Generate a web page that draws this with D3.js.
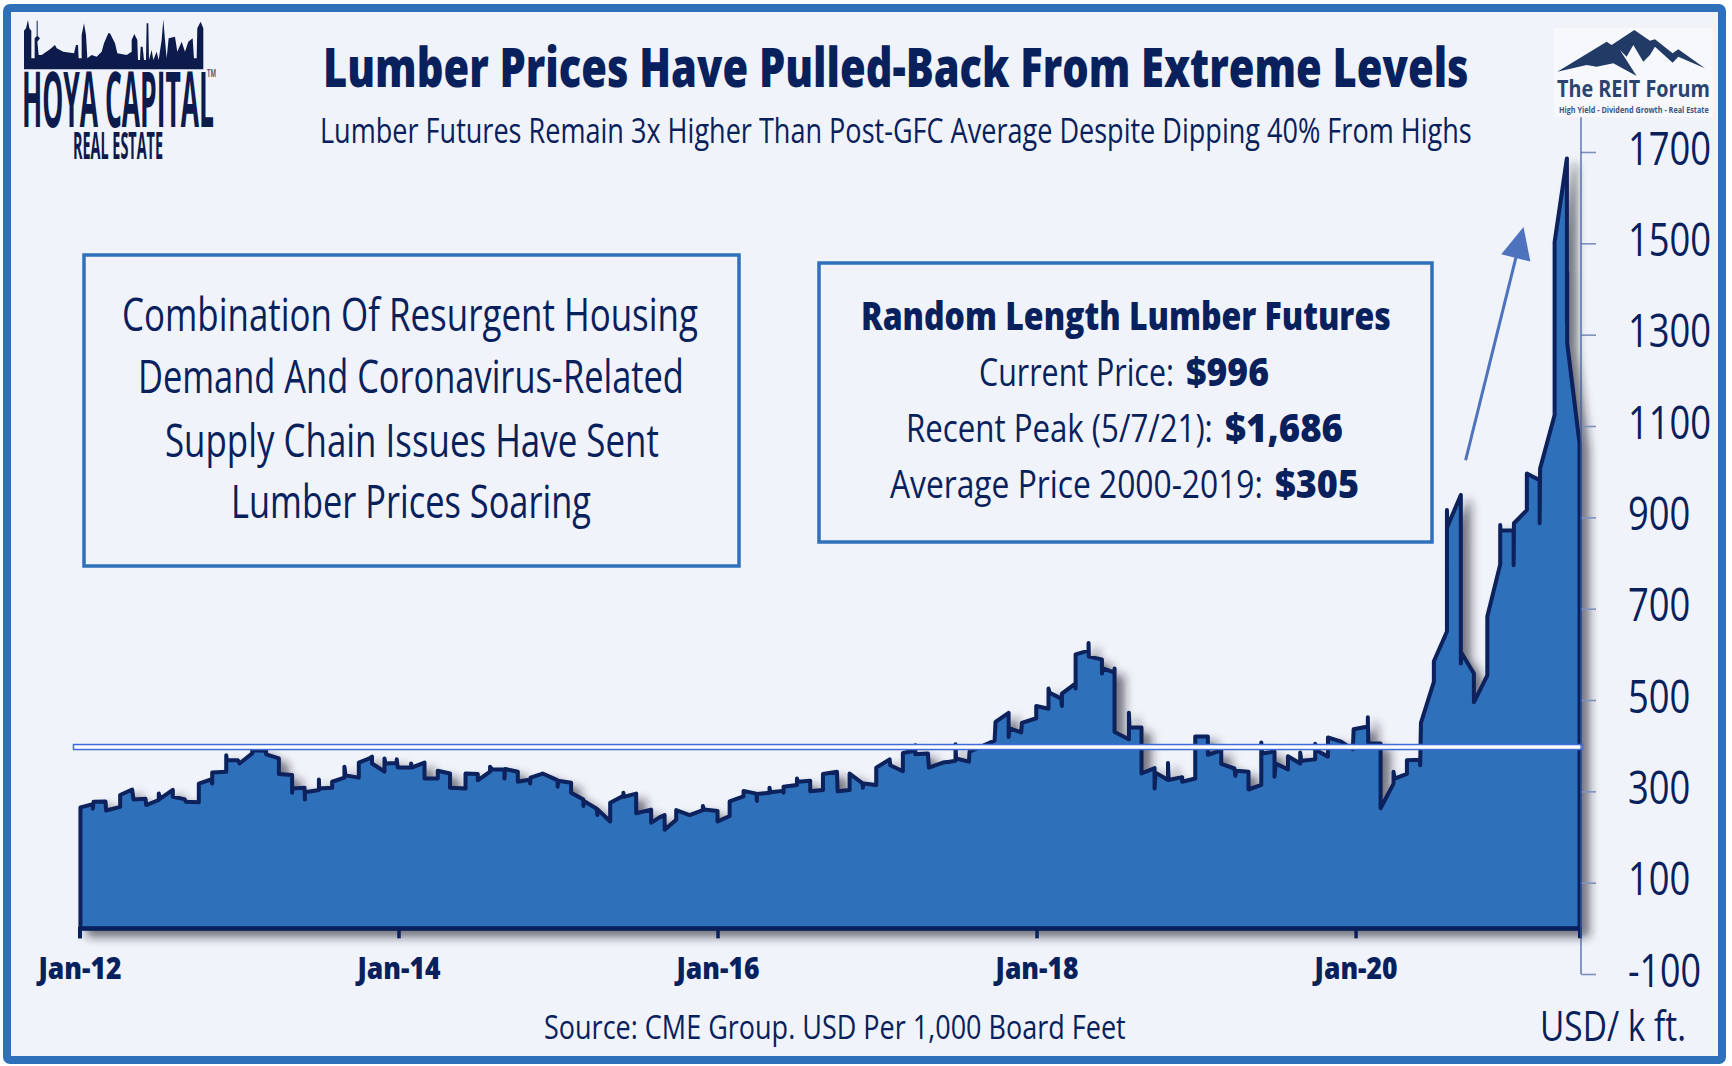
<!DOCTYPE html>
<html>
<head>
<meta charset="utf-8">
<title>Lumber Prices</title>
<script src="https://cdn.jsdelivr.net/npm/d3@7"></script>
<style>
html, body { margin: 0; padding: 0; background: #fff; }
svg { display: block; }
</style>
</head>
<body>
<script>
//years since Jan-12 for each point of the price line (repeated years are the vertical steps)
var yearsSince2012 = [
    0.006,0.084,0.084,0.088,0.163,0.167,0.255,0.255,0.330,0.339,0.414,0.418,0.497,0.497,0.506,0.585,0.585,0.658,0.669,0.748,
    0.748,0.825,0.832,0.832,0.920,0.920,0.924,0.993,1.003,1.083,1.083,1.170,1.170,1.250,1.250,1.333,1.333,1.335,1.411,1.413,
    1.413,1.501,1.501,1.503,1.584,1.584,1.661,1.661,1.668,1.751,1.751,1.818,1.834,1.834,1.912,1.912,1.918,1.989,1.989,1.995,
    2.079,2.079,2.082,2.163,2.163,2.246,2.246,2.323,2.323,2.420,2.420,2.497,2.497,2.574,2.574,2.587,2.664,2.664,2.668,2.748,
    2.748,2.825,2.825,2.828,2.904,2.998,2.998,3.000,3.082,3.082,3.159,3.159,3.162,3.243,3.247,3.250,3.327,3.327,3.410,3.410,
    3.412,3.490,3.490,3.584,3.584,3.636,3.668,3.669,3.741,3.741,3.825,3.908,3.908,3.915,4.000,4.000,4.076,4.076,4.163,4.163,
    4.243,4.247,4.247,4.326,4.326,4.331,4.410,4.414,4.414,4.498,4.498,4.504,4.581,4.581,4.661,4.661,4.749,4.753,4.828,4.828,
    4.911,4.911,4.916,4.995,4.995,5.079,5.083,5.162,5.162,5.235,5.240,5.240,5.319,5.325,5.413,5.455,5.492,5.492,5.496,5.576,
    5.580,5.737,5.743,5.825,5.825,5.831,5.904,5.908,5.998,5.998,6.075,6.075,6.082,6.155,6.159,6.159,6.243,6.245,6.245,6.326,
    6.326,6.328,6.410,6.410,6.416,6.489,6.489,6.489,6.579,6.579,6.583,6.658,6.658,6.740,6.740,6.746,6.824,6.824,6.828,6.897,
    6.913,6.913,6.995,6.995,7.074,7.074,7.158,7.158,7.241,7.246,7.252,7.329,7.329,7.409,7.409,7.415,7.492,7.492,7.499,7.576,
    7.576,7.653,7.653,7.660,7.747,7.747,7.754,7.827,7.827,7.910,7.983,7.988,8.077,8.077,8.080,8.157,8.157,8.238,8.238,8.245,
    8.322,8.322,8.405,8.405,8.410,8.491,8.491,8.573,8.573,8.575,8.660,8.660,8.663,8.742,8.742,8.826,8.826,8.907,8.907,8.909,
    8.991,8.991,8.993,9.074,9.074,9.154,9.154,9.157,9.248,9.248,9.325,9.325,9.327,9.327,9.404
];

//price per 1,000 board feet
var prices = [
    265,272,262,277,278,258,266,292,304,282,284,270,281,295,284,303,288,283,277,276,
    317,326,317,341,343,379,368,368,361,383,390,389,381,372,338,336,297,306,308,282,
    298,303,326,306,308,321,330,354,335,330,363,372,376,361,343,372,361,362,370,352,
    352,361,352,363,328,328,345,339,308,306,339,338,324,343,354,348,348,328,349,343,
    321,326,317,330,339,324,310,323,319,297,282,268,279,262,248,260,234,275,290,297,
    288,295,252,260,231,243,248,216,238,259,248,259,268,260,257,234,246,278,289,301,
    295,279,294,297,308,298,301,297,310,314,328,321,323,300,303,338,343,300,303,339,
    317,308,317,314,352,370,357,344,384,389,401,381,383,352,363,365,367,403,372,365,
    387,411,452,472,419,438,429,450,460,487,481,525,516,503,487,514,536,525,600,608,
    625,595,589,558,569,560,569,430,414,472,440,440,339,351,306,341,325,362,325,330,
    331,321,328,420,420,380,390,360,350,334,345,343,304,314,407,383,387,332,361,348,
    377,361,385,367,370,404,390,376,418,409,392,436,442,462,405,405,263,317,343,328,
    338,368,369,357,450,540,585,650,916,879,949,580,604,558,495,554,683,797,883,871,
    871,795,887,916,996,981,887,1007,1124,1503,1686,1328,1438,1281,1062
];

var xTickYears = [0, 2, 4, 6, 8];
var xTickLabels = ["Jan-12", "Jan-14", "Jan-16", "Jan-18", "Jan-20"];
var yTickValues = [-100, 100, 300, 500, 700, 900, 1100, 1300, 1500, 1700];
var referenceLevel = [397];
var trendArrowYears = [8.690, 9.053];
var trendArrowPrices = [1025, 1536];

var titleText = "Lumber Prices Have Pulled-Back From Extreme Levels";
var subtitleText = "Lumber Futures Remain 3x Higher Than Post-GFC Average Despite Dipping 40% From Highs";
var sourceText = "Source: CME Group. USD Per 1,000 Board Feet";
var unitText = "USD/ k ft.";
var noteLines = [
    "Combination Of Resurgent Housing",
    "Demand And Coronavirus-Related",
    "Supply Chain Issues Have Sent",
    "Lumber Prices Soaring"
];
var statsHeading = "Random Length Lumber Futures";
var statsLabels = ["Current Price:", "Recent Peak (5/7/21):", "Average Price 2000-2019:"];
var statsValues = ["$996", "$1,686", "$305"];

window.onload = setChart();

function setChart(){
    var width = 1732,
        height = 1066;

    var ink = "#08215c",
        blue = "#2f70ba",
        paper = "#f0f3f9";

    var svg = d3.select("body")
        .append("svg")
        .attr("width", width)
        .attr("height", height);

    //soft shadow under the area
    var filter = svg.append("defs").append("filter")
        .attr("id", "areaShadow")
        .attr("x", "-5%").attr("y", "-5%")
        .attr("width", "110%").attr("height", "115%");
    filter.append("feDropShadow")
        .attr("dx", 8).attr("dy", 7)
        .attr("stdDeviation", 5)
        .attr("flood-color", "#20242c")
        .attr("flood-opacity", 0.6);

    //outer frame
    svg.append("rect")
        .attr("x", 7).attr("y", 8)
        .attr("width", 1715).attr("height", 1052)
        .attr("rx", 3)
        .attr("fill", paper)
        .attr("stroke", blue)
        .attr("stroke-width", 8);

    var x = d3.scaleLinear().domain([0, 9.404]).range([79.5, 1579.5]);
    var y = d3.scaleLinear().domain([-100, 1700]).range([974, 152]);

    var points = yearsSince2012.map(function(d, i){ return [d, prices[i]]; });

    var area = d3.area()
        .x(function(d){ return x(d[0]); })
        .y0(y(0))
        .y1(function(d){ return y(d[1]); });

    svg.append("path")
        .datum(points)
        .attr("d", area)
        .attr("fill", blue)
        .attr("stroke", ink)
        .attr("stroke-width", 4)
        .attr("stroke-linejoin", "round")
        .attr("filter", "url(#areaShadow)");

    //reference line
    svg.selectAll(".level")
        .data(referenceLevel)
        .enter()
        .append("rect")
        .attr("class", "level")
        .attr("x", x(0) - 6)
        .attr("y", function(d){ return y(d) - 2.5; })
        .attr("width", x(9.404) - x(0) + 9)
        .attr("height", 5)
        .attr("fill", "#fff")
        .attr("stroke", "#3f6bd8")
        .attr("stroke-width", 1.5);

    //squeezes a text to a given width, the font has no condensed cut
    function squeeze(node, left, baseline, len){
        var k = len / node.getComputedTextLength();
        d3.select(node)
            .attr("x", 0).attr("y", 0).attr("dy", 0)
            .attr("transform", "translate(" + left + "," + baseline + ") scale(" + k + ",1)");
    }

    //x axis
    var xAxis = svg.append("g")
        .attr("transform", "translate(0," + y(0) + ")")
        .call(d3.axisBottom(x)
            .tickValues(xTickYears)
            .tickSize(10)
            .tickFormat(function(d, i){ return xTickLabels[i]; }));
    xAxis.select(".domain")
        .attr("stroke", ink)
        .attr("stroke-width", 4);
    xAxis.selectAll(".tick line")
        .attr("stroke", ink)
        .attr("stroke-width", 3.5);
    xAxis.selectAll(".tick text")
        .attr("fill", ink)
        .attr("font-family", "'Open Sans'")
        .attr("font-weight", 800)
        .attr("font-size", 30)
        .each(function(){ squeeze(this, 0, 51, 83); });

    //y axis
    var yAxis = svg.append("g")
        .attr("transform", "translate(1581,0)")
        .call(d3.axisRight(y)
            .tickValues(yTickValues)
            .tickSize(15)
            .tickFormat(function(d){ return String(d); }));
    yAxis.select(".domain").remove();
    yAxis.append("line")
        .attr("y1", y(1776))
        .attr("y2", y(-100))
        .attr("stroke", "#3a5aa0")
        .attr("stroke-width", 1.2);
    yAxis.selectAll(".tick line")
        .attr("stroke", "#7d90bd")
        .attr("stroke-width", 1.6);
    yAxis.selectAll(".tick text")
        .attr("text-anchor", "start")
        .attr("fill", ink)
        .attr("font-family", "'Open Sans'")
        .attr("font-size", 46)
        .each(function(d){
            squeeze(this, 47, 12, d < 0 ? 73 : String(d).length * 20.8);
        });

    //trend arrow
    var ax0 = x(trendArrowYears[0]), ay0 = y(trendArrowPrices[0]),
        ax1 = x(trendArrowYears[1]), ay1 = y(trendArrowPrices[1]);
    var angle = Math.atan2(ay1 - ay0, ax1 - ax0);
    var head = [[0, 0], [-32, -15], [-32, 15]].map(function(p){
        return [ax1 + p[0] * Math.cos(angle) - p[1] * Math.sin(angle),
                ay1 + p[0] * Math.sin(angle) + p[1] * Math.cos(angle)];
    });
    svg.append("line")
        .attr("x1", ax0).attr("y1", ay0)
        .attr("x2", ax1 - 28 * Math.cos(angle))
        .attr("y2", ay1 - 28 * Math.sin(angle))
        .attr("stroke", "#4d72be")
        .attr("stroke-width", 3);
    svg.append("polygon")
        .attr("points", head.join(" "))
        .attr("fill", "#4d72be");

    //writes one line of text squeezed to the width it has in the picture
    function put(str, left, baseline, size, weight, len, color){
        var t = svg.append("text")
            .attr("fill", color || ink)
            .attr("font-family", "'Open Sans'")
            .attr("font-size", size)
            .attr("font-weight", weight)
            .text(str);
        squeeze(t.node(), left, baseline, len);
        return t;
    }

    put(titleText, 323, 87, 54, 800, 1146);
    put(subtitleText, 320, 143, 34, 400, 1152);
    put(sourceText, 544, 1039, 33, 400, 582);
    put(unitText, 1540, 1041, 42, 400, 146);

    //text boxes
    function box(left, top, right, bottom){
        svg.append("rect")
            .attr("x", left).attr("y", top)
            .attr("width", right - left).attr("height", bottom - top)
            .attr("fill", "none")
            .attr("stroke", blue)
            .attr("stroke-width", 3.5);
    }
    box(84, 255, 739, 566);
    box(819, 263, 1432, 542);

    put(noteLines[0], 122, 331, 45, 400, 576);
    put(noteLines[1], 138, 393, 45, 400, 546);
    put(noteLines[2], 165, 457, 45, 400, 494);
    put(noteLines[3], 231, 518, 45, 400, 360);

    //stats box
    put(statsHeading, 861, 330, 38, 800, 530);
    put(statsLabels[0], 979, 386, 38, 400, 195);
    put(statsValues[0], 1186, 386, 38, 800, 83);
    put(statsLabels[1], 906, 442, 38, 400, 307);
    put(statsValues[1], 1225, 442, 38, 800, 118);
    put(statsLabels[2], 890, 498, 38, 400, 373);
    put(statsValues[2], 1275, 498, 38, 800, 84);

    //Hoya Capital logo
    var logoInk = "#0c1a4c";
    svg.append("path")
        .attr("transform", "translate(0,10) scale(0.3333)")
        .attr("fill", logoInk)
        .attr("d", "M72,178L72,62L78,55L84,30L88,55L94,62L94,145L104,145L104,85L110,78L110,32L113,32L113,78L120,85L112,95L116,135L125,135L150,118L165,105L170,115L190,125L222,130L228,105L234,105L236,145L245,145L245,75L252,40L258,75L262,145L275,135L290,140L305,125L312,100L325,70L330,70L345,100L352,130L380,135L395,125L395,90L403,72L412,90L414,150L420,150L422,110L428,110L432,150L438,150L440,40L445,40L447,150L455,120L460,150L470,125L476,150L485,90L490,28L495,90L500,145L506,85L525,80L532,125L545,95L555,125L565,95L578,85L582,145L590,145L592,55L602,35L610,55L610,178Z");
    put("HOYA CAPITAL", 22, 127, 77, 700, 192, logoInk);
    put("REAL ESTATE", 73, 159, 38, 700, 90, logoInk);
    put("TM", 207, 77, 10, 700, 9, "#555b70");

    //REIT Forum logo
    svg.append("rect")
        .attr("x", 1554).attr("y", 28)
        .attr("width", 159).attr("height", 89)
        .attr("fill", "#f6f8fc");
    svg.append("path")
        .attr("transform", "translate(1300,0) scale(0.3333)")
        .attr("fill", "#223a66")
        .attr("d", "M772,215L920,125L935,135L1003,90L1050,122L1065,118L1118,160L1135,148L1215,205L1135,170L1118,188L1065,140L1050,165L1030,185L1000,135L980,170L960,150L1010,228L940,190L890,200L860,195Z");
    put("The REIT Forum", 1557, 97, 24, 700, 153, "#2a4470");
    put("High Yield - Dividend Growth - Real Estate", 1559, 113, 8, 700, 150, "#3c5580");
};
</script>
</body>
</html>
